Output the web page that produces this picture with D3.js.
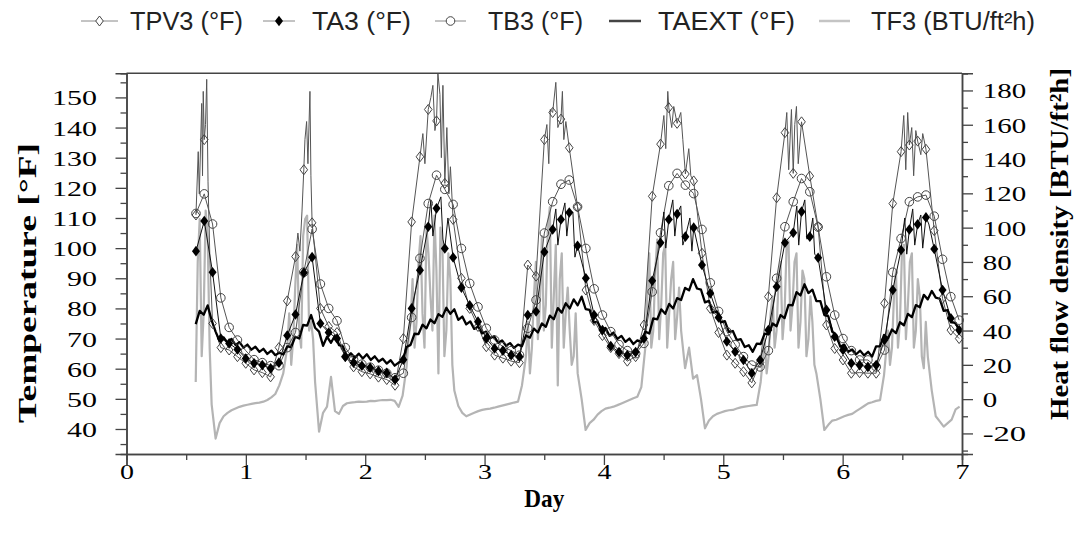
<!DOCTYPE html>
<html>
<head>
<meta charset="utf-8">
<script src="https://cdn.jsdelivr.net/npm/d3@7"></script>
<style>
  body { margin: 0; background: #fff; }
</style>
</head>
<body>
<div id="chart"></div>
<script>
// marker series: one value every 100 min, starting at day 0.582
const markerStart = 0.582;
const markerStep = 0.0695;
const tpv3 = [111, 136, 75, 67, 66.2, 64, 61.8, 59.6, 58.7, 57.3,
  67, 82.5, 97.2, 126, 108.4, 80, 74, 72, 64, 60.6,
  59, 58.3, 57.2, 56.4, 54.5, 70, 108.7, 130.3, 146, 142.2,
  121.5, 109.5, 90, 80, 74, 67.3, 64.5, 63.5, 62.5, 62,
  94.4, 90.7, 136, 145, 142.8, 133.3, 113.7, 86.1, 76, 71,
  67, 65, 62.5, 64, 74.5, 117.2, 134.5, 146.6, 141.4, 124.6,
  122.3, 98.3, 80, 72, 64.5, 61.8, 59, 55.3, 62, 83.9,
  116.7, 138.3, 124.8, 141.9, 123.9, 107.1, 74.5, 66.7, 62.9, 58.5,
  58.7, 58.5, 58.5, 81.7, 114.8, 132, 134.2, 135.5, 132.8, 105.8,
  83.3, 72.8, 70];
const ta3 = [99, 109, 92, 70, 68.4, 66.4, 63.4, 61.8, 61.2, 60.1,
  62, 71, 78, 91.8, 97, 75, 72, 70, 64, 62,
  61, 60.3, 59.2, 58.6, 56.4, 63, 80, 92.7, 107.1, 113.2,
  99.9, 96.9, 86.9, 81, 75.6, 70, 66.7, 66, 64.5, 64,
  77.8, 79, 98.7, 106.2, 109.5, 111.8, 100.8, 90, 77.8, 72.8,
  67.5, 65.5, 64.5, 65.5, 70, 89.2, 101.8, 109.5, 111.3, 103.8,
  106.8, 94.4, 85, 77, 69, 65.6, 62.9, 58.5, 62.9, 72.8,
  87.2, 101.8, 105.1, 112.1, 103.8, 96.8, 79.5, 70.6, 66.2, 61.8,
  61.2, 60.6, 61.2, 69.5, 86.1, 99.4, 106.2, 107.9, 110.2, 99.7,
  86.1, 76.7, 72.8];
const tb3 = [111.5, 118, 108, 83.5, 73.7, 69.5, 66, 63, 62, 61,
  61, 67, 72, 92, 106.3, 88.1, 80, 75.9, 67, 63,
  61.5, 60.5, 59.5, 58.5, 57, 58.5, 77, 96.6, 114.8, 124.2,
  119.5, 114.5, 99.9, 88.3, 80.5, 73.4, 69.5, 67.3, 66, 64.5,
  73.4, 82.8, 105, 115.4, 121.2, 122.6, 113.7, 99.9, 86.5, 77.8,
  72.3, 68, 66, 65, 68.4, 85.5, 105.1, 120.7, 124.8, 120.9,
  118.1, 106.2, 88.5, 79, 72.3, 68, 64, 61.2, 60.6, 66,
  90, 107.1, 115.4, 123.1, 118.7, 107, 90.5, 77.8, 70, 66,
  62.9, 62.9, 60.6, 66.2, 92, 103.2, 115.4, 117, 117.6, 110.6,
  96.3, 83.9, 76.1];

// extra readings of the fast peaks between markers [day, °F]
const tpv3Spikes = [[0.601, 132], [0.610, 118], [0.630, 148], [0.637, 124], [0.643, 152],
  [0.662, 141], [0.672, 156], [0.683, 122], [0.699, 96],
  [1.436, 105], [1.453, 99], [1.470, 112], [1.495, 136], [1.509, 142], [1.520, 128],
  [1.537, 152], [1.545, 124],
  [2.483, 138], [2.500, 128], [2.550, 150], [2.567, 154], [2.584, 139], [2.609, 158],
  [2.626, 151], [2.638, 130], [2.651, 154], [2.684, 140], [2.701, 118], [2.714, 127],
  [3.522, 141], [3.538, 128], [3.551, 146], [3.597, 155], [3.614, 140], [3.652, 152],
  [3.664, 136], [3.681, 142],
  [4.502, 144], [4.518, 133], [4.535, 152], [4.568, 140], [4.585, 147], [4.644, 145],
  [4.661, 136], [4.711, 133], [4.728, 124],
  [5.532, 145], [5.548, 126], [5.571, 146], [5.599, 141], [5.613, 147], [5.628, 128],
  [6.512, 144], [6.529, 126], [6.545, 145], [6.579, 140], [6.595, 124], [6.613, 139],
  [6.655, 131], [6.671, 138]];
const ta3Spikes = [[2.550, 116], [2.567, 104], [2.634, 117], [2.651, 103], [2.693, 110],
  [3.597, 113], [3.614, 101], [3.673, 115], [3.689, 104], [3.740, 112], [3.757, 97],
  [4.502, 112], [4.518, 100], [4.577, 116], [4.594, 104], [4.644, 114], [4.661, 101],
  [4.720, 110], [4.737, 99],
  [5.616, 114], [5.632, 101], [5.683, 116], [5.700, 103], [5.750, 110], [5.766, 98],
  [6.520, 110], [6.537, 98], [6.587, 113], [6.604, 101], [6.655, 111], [6.671, 100],
  [6.722, 108]];

// fast series: one value every 48 min, starting at day 0.58
const sampleStart = 0.58;
const sampleStep = 1 / 30;
const taext = [74.8, 79.2, 77.9, 81.0, 76.0, 72.3, 69.2, 70.4, 68.6, 69.9,
  67.9, 68.8, 67.0, 68.0, 66.3, 67.3, 65.6, 66.6, 64.9, 66.0,
  64.5, 65.3, 64.7, 67.4, 67.2, 70.6, 70.0, 74.5, 74.3, 77.8,
  73.6, 72.3, 67.6, 70.6, 68.6, 71.0, 67.8, 67.4, 63.8, 65.1,
  63.6, 65.0, 63.4, 64.8, 62.9, 64.1, 62.4, 63.3, 61.7, 62.8,
  61.0, 62.0, 62.6, 67.2, 67.9, 71.6, 71.5, 74.6, 73.4, 76.3,
  75.1, 78.1, 77.2, 80.2, 78.2, 79.7, 76.2, 77.3, 74.7, 75.7,
  73.2, 74.0, 71.7, 72.3, 70.1, 70.8, 68.6, 69.4, 67.6, 68.5,
  66.9, 68.0, 67.5, 71.0, 70.3, 73.3, 72.0, 75.0, 73.9, 77.6,
  76.4, 80.1, 78.6, 81.7, 80.0, 83.0, 81.0, 83.9, 79.8, 79.5,
  75.3, 75.6, 72.7, 73.5, 70.9, 72.0, 69.9, 70.9, 68.9, 70.0,
  68.2, 69.4, 68.8, 72.3, 71.7, 76.7, 76.4, 79.7, 78.2, 81.5,
  80.0, 83.4, 82.8, 86.8, 86.0, 89.7, 86.6, 86.2, 82.0, 82.5,
  78.6, 79.0, 75.4, 75.8, 72.2, 72.5, 69.5, 69.8, 67.2, 67.8,
  65.6, 68.3, 68.2, 71.6, 71.4, 75.0, 74.1, 77.8, 76.8, 81.2,
  81.0, 85.4, 84.3, 88.0, 85.1, 86.2, 82.4, 82.4, 77.8, 77.4,
  72.2, 71.2, 67.3, 68.0, 65.6, 66.4, 64.8, 66.0, 64.4, 65.6,
  64.0, 67.4, 67.4, 71.2, 70.0, 73.0, 71.8, 75.4, 74.4, 78.2,
  77.1, 81.1, 80.4, 84.5, 83.0, 85.8, 83.6, 83.2, 79.2, 79.4,
  75.4, 75.2, 72.4];
const tf3 = [10, 105, 50, 95, -3, -23, -14, -10, -8, -6.5,
  -5.5, -4.5, -3.8, -3.3, -2.8, -2.3, -2, -1.5, -0.5, 1,
  3, 8, 15, 30, 20, 65, 40, 95, 107, 45,
  10, -19, -8, -4.4, 13, -7, -8.6, -4, -2.4, -2,
  -1.8, -1.5, -1.6, -1.5, -1, -1.2, -0.8, -0.5, -0.6, -0.4,
  -1, -4.5, 2, 19, 45, 30, 80, 50, 100, 60,
  107, 15, 90, 40, 70, 5, -4, -8, -10, -9,
  -8, -7, -6.3, -5.8, -5.5, -5, -4.4, -3.8, -3.2, -2.6,
  -2, -1.5, 8, 25, 15, 60, 35, 95, 55, 112,
  60, 8, 85, 50, 40, 25, 15, 0, -18, -14,
  -12, -9, -7, -5.5, -5, -4.4, -3.5, -2.5, -1.5, -0.5,
  0.5, 1.4, 7, 30, 85, 40, 93, 55, 90, 50,
  80, 48, 40, 18, 30, 12, 14, 0, -17, -12.5,
  -10, -8.6, -7.8, -7, -6.5, -6.3, -5.5, -4.8, -4.4, -4,
  -3.6, -3.4, 10, 35, 25, 60, 40, 80, 50, 92,
  55, 85, 45, 70, 35, 45, 15, 0, -18, -15,
  -12.5, -12, -11, -10, -9.2, -8.6, -7, -5.5, -4, -2.5,
  -1.8, -1, -0.6, 14, 40, 30, 75, 45, 90, 55,
  85, 40, 60, 18, 25, 5, -10, -13, -16, -14,
  -12, -6, -4.4];
// extra daytime heat flow readings between samples [day, BTU/ft²h]
const tf3Spikes = [[0.5967, 80], [0.630, 25], [0.6633, 110], [0.6967, 30],
  [1.3633, 50], [1.3967, 35], [1.430, 90], [1.4633, 30], [1.4967, 105], [1.530, 40], [1.5633, 35],
  [2.3633, 35], [2.3967, 70], [2.430, 45], [2.4633, 95], [2.4967, 30], [2.530, 85],
  [2.5633, 40], [2.5967, 75], [2.630, 100], [2.6633, 25], [2.6967, 85], [2.730, 20],
  [3.3633, 45], [3.3967, 30], [3.430, 80], [3.4633, 55], [3.4967, 40], [3.530, 100],
  [3.5633, 30], [3.5967, 90], [3.630, 70], [3.6633, 30], [3.6967, 65], [3.730, 20], [3.7633, 50],
  [4.3633, 60], [4.3967, 30], [4.430, 75], [4.4633, 35], [4.4967, 85], [4.530, 30],
  [4.5633, 70], [4.5967, 35], [4.630, 65],
  [5.3633, 15], [5.3967, 50], [5.430, 30], [5.4633, 70], [5.4967, 35], [5.530, 88],
  [5.5633, 40], [5.5967, 80], [5.630, 30], [5.6633, 75], [5.6967, 25], [5.730, 60], [5.7633, 20],
  [6.3967, 20], [6.430, 60], [6.4633, 30], [6.4967, 85], [6.530, 35], [6.5633, 80],
  [6.5967, 30], [6.630, 70], [6.6633, 25], [6.6967, 45]];

const dayTicks = [0, 1, 2, 3, 4, 5, 6, 7];
const tempTicks = [40, 50, 60, 70, 80, 90, 100, 110, 120, 130, 140, 150];
const fluxTicks = [-20, 0, 20, 40, 60, 80, 100, 120, 140, 160, 180];

const width = 1075;
const height = 549;
const plot = { l: 126.5, r: 962, t: 73.3, b: 454 };
const axisColor = '#444';
const serif = '"Liberation Serif", "Times New Roman", serif';
const sans = '"Liberation Sans", Arial, sans-serif';

const svg = d3.select('#chart')
  .append('svg')
  .attr('width', width)
  .attr('height', height)
  .attr('viewBox', [0, 0, width, height]);

const x = d3.scaleLinear().domain([0, 7]).range([plot.l, plot.r]);
const yT = d3.scaleLinear().domain([31.7, 158]).range([plot.b, plot.t]);
const yF = d3.scaleLinear().domain([-32, 190]).range([plot.b, plot.t]);

// build line data
const markerRows = (vals) => vals.map((v, k) => [markerStart + k * markerStep, v]);
const sampleRows = (vals) => vals.map((v, j) => [sampleStart + j * sampleStep, v]);
const byDay = (a, b) => a[0] - b[0];

const tpv3Rows = markerRows(tpv3);
const ta3Rows = markerRows(ta3);
const tb3Rows = markerRows(tb3);
const tpv3Line = tpv3Rows.concat(tpv3Spikes).sort(byDay);
const ta3Line = ta3Rows.concat(ta3Spikes).sort(byDay);
const tf3Line = sampleRows(tf3).concat(tf3Spikes).sort(byDay);

const lineT = d3.line().x((d) => x(d[0])).y((d) => yT(d[1]));
const lineF = d3.line().x((d) => x(d[0])).y((d) => yF(d[1]));

const g = svg.append('g');

g.append('path').datum(tf3Line)
  .attr('d', lineF).attr('fill', 'none')
  .attr('stroke', '#b4b4b4').attr('stroke-width', 2.2).attr('stroke-linejoin', 'round');

g.append('path').datum(tpv3Line)
  .attr('d', lineT).attr('fill', 'none')
  .attr('stroke', '#555').attr('stroke-width', 1);
g.append('path').datum(tb3Rows)
  .attr('d', lineT).attr('fill', 'none')
  .attr('stroke', '#555').attr('stroke-width', 1);
g.append('path').datum(ta3Line)
  .attr('d', lineT).attr('fill', 'none')
  .attr('stroke', '#111').attr('stroke-width', 1);

g.append('path').datum(sampleRows(taext))
  .attr('d', lineT).attr('fill', 'none')
  .attr('stroke', '#000').attr('stroke-width', 2.3).attr('stroke-linejoin', 'round');

const diamond = (w, h) => `M0,${-h}L${w},0L0,${h}L${-w},0Z`;

g.selectAll('.m-tpv3')
  .data(tpv3Rows)
  .join('path')
  .attr('class', 'm-tpv3')
  .attr('transform', (d) => `translate(${x(d[0])},${yT(d[1])})`)
  .attr('d', diamond(3.8, 5))
  .attr('fill', 'none')
  .attr('stroke', '#444')
  .attr('stroke-width', 1);

g.selectAll('.m-tb3')
  .data(tb3Rows)
  .join('circle')
  .attr('class', 'm-tb3')
  .attr('cx', (d) => x(d[0]))
  .attr('cy', (d) => yT(d[1]))
  .attr('r', 4.3)
  .attr('fill', 'none')
  .attr('stroke', '#444')
  .attr('stroke-width', 1);

g.selectAll('.m-ta3')
  .data(ta3Rows)
  .join('path')
  .attr('class', 'm-ta3')
  .attr('transform', (d) => `translate(${x(d[0])},${yT(d[1])})`)
  .attr('d', diamond(4, 5.3))
  .attr('fill', '#000');

// axes
function styleAxis(sel) {
  sel.select('.domain').attr('stroke', axisColor).attr('stroke-width', 1.5);
  sel.selectAll('.tick line').attr('stroke', axisColor).attr('stroke-width', 1.3);
  sel.selectAll('text')
    .attr('fill', '#000')
    .style('font-family', serif)
    .style('font-size', '22px');
}
function stretch(sel, perChar) {
  sel.selectAll('text').each(function () {
    const t = d3.select(this);
    t.attr('textLength', t.text().length * perChar).attr('lengthAdjust', 'spacingAndGlyphs');
  });
}

const xMinor = svg.append('g').attr('transform', `translate(0,${plot.b})`)
  .call(d3.axisBottom(x).tickValues(d3.range(0.5, 7, 1)).tickSize(6).tickFormat(''));
styleAxis(xMinor);
const xAxis = svg.append('g').attr('transform', `translate(0,${plot.b})`)
  .call(d3.axisBottom(x).tickValues(dayTicks).tickSize(11).tickFormat(d3.format('d')));
styleAxis(xAxis);
xAxis.selectAll('text').attr('y', 25).attr('dy', 0);
stretch(xAxis, 14);

const lMinor = svg.append('g').attr('transform', `translate(${plot.l},0)`)
  .call(d3.axisLeft(yT).tickValues(d3.range(35, 160, 10)).tickSize(6).tickFormat(''));
styleAxis(lMinor);
const lAxis = svg.append('g').attr('transform', `translate(${plot.l},0)`)
  .call(d3.axisLeft(yT).tickValues(tempTicks).tickSize(11));
styleAxis(lAxis);
lAxis.selectAll('text').attr('x', -29.5).attr('dy', '0.34em');
stretch(lAxis, 15);

const rMinor = svg.append('g').attr('transform', `translate(${plot.r},0)`)
  .call(d3.axisRight(yF).tickValues(d3.range(-30, 200, 20)).tickSize(6).tickFormat(''));
styleAxis(rMinor);
const rAxis = svg.append('g').attr('transform', `translate(${plot.r},0)`)
  .call(d3.axisRight(yF).tickValues(fluxTicks).tickSize(11).tickFormat((d) => (d < 0 ? `-${-d}` : d)));
styleAxis(rAxis);
rAxis.selectAll('text').attr('x', 20.7).attr('dy', '0.34em');
stretch(rAxis, 14.5);

// top frame line
svg.append('line')
  .attr('x1', plot.l).attr('x2', plot.r)
  .attr('y1', plot.t).attr('y2', plot.t)
  .attr('stroke', axisColor).attr('stroke-width', 1.5);

// titles
svg.append('text')
  .attr('transform', `translate(36,283) rotate(-90)`)
  .attr('text-anchor', 'middle')
  .attr('textLength', 280).attr('lengthAdjust', 'spacingAndGlyphs')
  .style('font-family', serif).style('font-weight', 'bold').style('font-size', '26px')
  .text('Temperature [°F]');

svg.append('text')
  .attr('transform', `translate(1068,244) rotate(-90)`)
  .attr('text-anchor', 'middle')
  .attr('textLength', 352).attr('lengthAdjust', 'spacingAndGlyphs')
  .style('font-family', serif).style('font-weight', 'bold').style('font-size', '26px')
  .text('Heat flow density [BTU/ft²h]');

svg.append('text')
  .attr('x', (plot.l + plot.r) / 2).attr('y', 507)
  .attr('text-anchor', 'middle')
  .attr('textLength', 40).attr('lengthAdjust', 'spacingAndGlyphs')
  .style('font-family', serif).style('font-weight', 'bold').style('font-size', '26px')
  .text('Day');

// legend
const legendItems = [
  { name: 'TPV3 (°F)', x0: 81, x1: 118, tx: 130, w: 113, stroke: '#888', sw: 1, mark: 'open-diamond' },
  { name: 'TA3 (°F)', x0: 263, x1: 295, tx: 312, w: 99, stroke: '#888', sw: 1, mark: 'diamond' },
  { name: 'TB3 (°F)', x0: 435, x1: 466, tx: 488, w: 95, stroke: '#888', sw: 1, mark: 'circle' },
  { name: 'TAEXT (°F)', x0: 609, x1: 641, tx: 658, w: 137, stroke: '#444', sw: 2.5, mark: null },
  { name: 'TF3 (BTU/ft²h)', x0: 819, x1: 850, tx: 871, w: 164, stroke: '#c4c4c4', sw: 2.5, mark: null },
];
const ly = 21;
const legend = svg.append('g');
legendItems.forEach((d) => {
  legend.append('line')
    .attr('x1', d.x0).attr('x2', d.x1).attr('y1', ly).attr('y2', ly)
    .attr('stroke', d.stroke).attr('stroke-width', d.sw);
  const cx = (d.x0 + d.x1) / 2;
  if (d.mark === 'open-diamond') {
    legend.append('path').attr('transform', `translate(${cx},${ly})`)
      .attr('d', diamond(3.8, 5)).attr('fill', '#fff').attr('stroke', '#444');
  } else if (d.mark === 'diamond') {
    legend.append('path').attr('transform', `translate(${cx},${ly})`)
      .attr('d', diamond(4, 5.3)).attr('fill', '#000');
  } else if (d.mark === 'circle') {
    legend.append('circle').attr('cx', cx).attr('cy', ly).attr('r', 4.3)
      .attr('fill', '#fff').attr('stroke', '#444');
  }
  legend.append('text')
    .attr('x', d.tx).attr('y', ly + 9)
    .attr('textLength', d.w).attr('lengthAdjust', 'spacingAndGlyphs')
    .style('font-family', sans).style('font-size', '26px').attr('fill', '#222')
    .text(d.name);
});
</script>
</body>
</html>
